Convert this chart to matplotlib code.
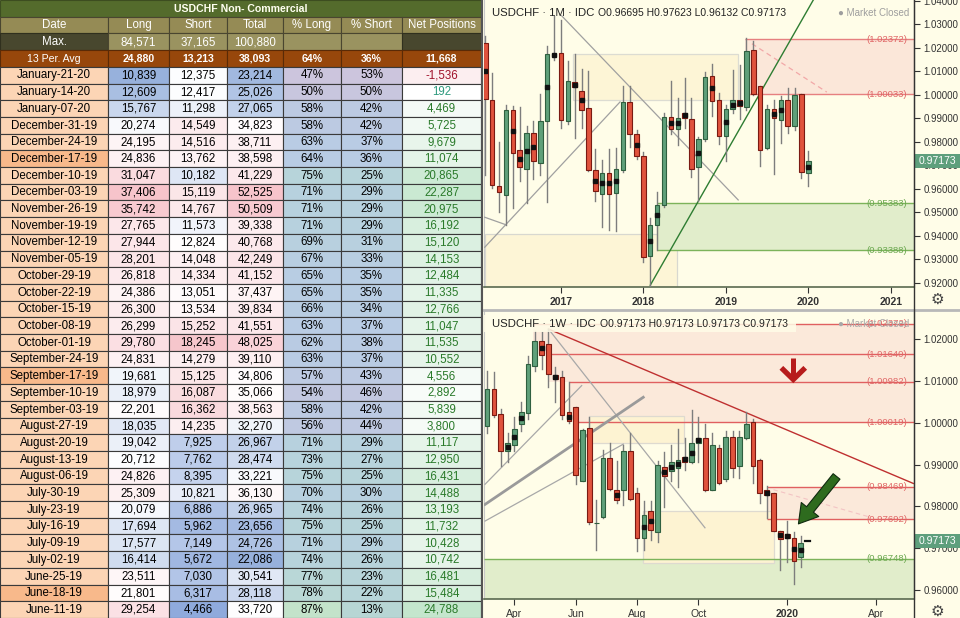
import matplotlib
matplotlib.use('Agg')
import matplotlib.pyplot as plt
from matplotlib.patches import Rectangle, FancyArrowPatch
from matplotlib.lines import Line2D
from matplotlib.colors import to_rgb
import matplotlib.transforms as mtransforms
import numpy as np

plt.rcParams['font.family'] = ['Liberation Sans', 'DejaVu Sans']

# ------------------------------------------------------------------ table data
table_title = "USDCHF Non- Commercial"
headers = ["Date", "Long", "Short", "Total", "% Long", "% Short", "Net Positions"]
max_vals = [84571, 37165, 100880]
avg_vals = ["24,880", "13,213", "38,093", "64%", "36%", "11,668"]
dates = ["January-21-20", "January-14-20", "January-07-20", "December-31-19",
         "December-24-19", "December-17-19", "December-10-19", "December-03-19",
         "November-26-19", "November-19-19", "November-12-19", "November-05-19",
         "October-29-19", "October-22-19", "October-15-19", "October-08-19",
         "October-01-19", "September-24-19", "September-17-19", "September-10-19",
         "September-03-19", "August-27-19", "August-20-19", "August-13-19",
         "August-06-19", "July-30-19", "July-23-19", "July-16-19", "July-09-19",
         "July-02-19", "June-25-19", "June-18-19", "June-11-19"]
highlight_dates = ["December-17-19", "September-17-19", "June-18-19"]
long_pos = [10839, 12609, 15767, 20274, 24195, 24836, 31047, 37406, 35742, 27765, 27944,
            28201, 26818, 24386, 26300, 26299, 29780, 24831, 19681, 18979, 22201, 18035,
            19042, 20712, 24826, 25309, 20079, 17694, 17577, 16414, 23511, 21801, 29254]
short_pos = [12375, 12417, 11298, 14549, 14516, 13762, 10182, 15119, 14767, 11573, 12824,
             14048, 14334, 13051, 13534, 15252, 18245, 14279, 15125, 16087, 16362, 14235,
             7925, 7762, 8395, 10821, 6886, 5962, 7149, 5672, 7030, 6317, 4466]
total_pos = [23214, 25026, 27065, 34823, 38711, 38598, 41229, 52525, 50509, 39338, 40768,
             42249, 41152, 37437, 39834, 41551, 48025, 39110, 34806, 35066, 38563, 32270,
             26967, 28474, 33221, 36130, 26965, 23656, 24726, 22086, 30541, 28118, 33720]
pct_long = [47, 50, 58, 58, 63, 64, 75, 71, 71, 71, 69, 67, 65, 65, 66, 63, 62, 63, 57, 54,
            58, 56, 71, 73, 75, 70, 74, 75, 71, 74, 77, 78, 87]
pct_short = [53, 50, 42, 42, 37, 36, 25, 29, 29, 29, 31, 33, 35, 35, 34, 37, 38, 37, 43, 46,
             42, 44, 29, 27, 25, 30, 26, 25, 29, 26, 23, 22, 13]
net_pos = [-1536, 192, 4469, 5725, 9679, 11074, 20865, 22287, 20975, 16192, 15120, 14153,
           12484, 11335, 12766, 11047, 11535, 10552, 4556, 2892, 5839, 3800, 11117, 12950,
           16431, 14488, 13193, 11732, 10428, 10742, 16481, 15484, 24788]

# ------------------------------------------------------------------ monthly chart data (Feb-2016 .. Jan-2020)
m_idx = list(range(1, 49))
m_open = [1.0223, 0.9980, 0.9613, 0.9576, 0.9936, 0.9765, 0.9684, 0.9836, 0.9710, 0.9891,
          1.0166, 1.0177, 0.9891, 1.0056, 1.0018, 0.9943, 0.9679, 0.9579, 0.9668, 0.9583,
          0.9679, 0.9970, 0.9835, 0.9738, 0.9314, 0.9445, 0.9531, 0.9906, 0.9854, 0.9924,
          0.9898, 0.9693, 0.9812, 1.0081, 0.9979, 0.9827, 0.9939, 0.9977, 0.9948, 1.0191,
          1.0038, 0.9772, 0.9939, 0.9894, 0.9977, 0.9866, 1.0003, 0.96695]
m_high = [1.0252, 1.0095, 0.9799, 0.9958, 0.9954, 0.9950, 0.9869, 0.9887, 1.0003, 1.0208,
          1.0335, 1.0320, 1.0144, 1.0174, 1.0110, 1.0102, 0.9769, 0.9723, 0.9768, 0.9772,
          1.0040, 1.0040, 0.9851, 0.9757, 0.9475, 0.9586, 0.9921, 1.0058, 0.9985, 1.0072,
          0.9988, 0.9821, 1.0096, 1.0132, 1.0010, 0.9958, 1.0104, 1.0129, 1.0243, 1.0229,
          1.0040, 0.9958, 0.9979, 0.9995, 1.0029, 1.0028, 1.0006, 0.97623]
m_low = [0.9661, 0.9604, 0.9500, 0.9445, 0.9519, 0.9634, 0.9542, 0.9641, 0.9661, 0.9546,
         1.0150, 0.9861, 0.9876, 0.9817, 0.9861, 0.9676, 0.9549, 0.9437, 0.9426, 0.9420,
         0.9670, 0.9780, 0.9728, 0.9289, 0.9188, 0.9341, 0.9525, 0.9832, 0.9787, 0.9861,
         0.9649, 0.9549, 0.9802, 0.9910, 0.9791, 0.9717, 0.9925, 0.9899, 0.9936, 0.9999,
         0.9698, 0.9770, 0.9664, 0.9797, 0.9839, 0.9851, 0.9646, 0.96132]
m_close = [0.9983, 0.9616, 0.9586, 0.9936, 0.9754, 0.9693, 0.9836, 0.9717, 0.9888, 1.0174,
           1.0174, 0.9894, 1.0058, 1.0032, 0.9936, 0.9679, 0.9589, 0.9668, 0.9579, 0.9684,
           0.9970, 0.9835, 0.9738, 0.9310, 0.9445, 0.9530, 0.9906, 0.9854, 0.9903, 0.9902,
           0.9686, 0.9814, 1.0077, 0.9976, 0.9827, 0.9939, 0.9977, 0.9951, 1.0188, 1.0003,
           0.9765, 0.9939, 0.9901, 0.9977, 0.9869, 0.9998, 0.9671, 0.97173]
m_dots = [1, 5, 6, 7, 8, 10, 11, 14, 15, 17, 18, 19, 20, 23, 25, 26, 28, 29, 30, 32, 34,
          36, 37, 38, 43, 44, 48]
m_ticks = [12, 24, 36, 48, 60]
m_tick_labels = ["2017", "2018", "2019", "2020", "2021"]
m_red_levels = [1.02372, 1.00033]
m_green_levels = [0.95383, 0.93388]

# ------------------------------------------------------------------ weekly chart data (week of 25-Feb-2019 .. 20-Jan-2020)
w_idx = list(range(48))
w_open = [0.9992, 1.0081, 1.0021, 0.9932, 0.9948, 0.9997, 1.0023, 1.0137, 1.0197, 1.0189,
          1.0115, 1.0111, 1.0025, 1.0037, 0.9862, 0.9989, 0.9760, 0.9775, 0.9916, 0.9840,
          0.9840, 0.9932, 0.9832, 0.9724, 0.9788, 0.9738, 0.9895, 0.9884, 0.9892, 0.9919,
          0.9906, 0.9952, 0.9964, 0.9840, 0.9939, 0.9866, 0.9967, 0.9896, 0.9964, 1.0002,
          0.9912, 0.9839, 0.9832, 0.9740, 0.9734, 0.9724, 0.9678, 0.97173]
w_high = [1.0125, 1.0121, 1.0033, 0.9976, 1.0013, 1.0049, 1.0161, 1.0219, 1.0217, 1.0225,
          1.0133, 1.0125, 1.0097, 1.0037, 0.9985, 1.0014, 0.9816, 0.9934, 0.9952, 0.9908,
          0.9948, 0.9976, 0.9844, 0.9812, 0.9812, 0.9908, 0.9931, 0.9947, 0.9985, 0.9964,
          1.0030, 1.0015, 0.9997, 0.9976, 0.9947, 0.9980, 0.9980, 0.9980, 1.0025, 1.0010,
          0.9913, 0.9848, 0.9833, 0.9742, 0.9764, 0.9738, 0.9730, 0.97173]
w_low = [0.9976, 1.0013, 0.9896, 0.9907, 0.9932, 0.9980, 1.0009, 1.0125, 1.0129, 1.0085,
         1.0049, 1.0009, 1.0001, 0.9854, 0.9860, 0.9758, 0.9696, 0.9773, 0.9840, 0.9807,
         0.9804, 0.9816, 0.9692, 0.9695, 0.9720, 0.9714, 0.9798, 0.9860, 0.9846, 0.9887,
         0.9904, 0.9907, 0.9838, 0.9839, 0.9853, 0.9860, 0.9870, 0.9868, 0.9962, 0.9856,
         0.9807, 0.9772, 0.9740, 0.9648, 0.9668, 0.9614, 0.9656, 0.97173]
w_close = [1.0081, 1.0019, 0.9932, 0.9951, 0.9985, 1.0025, 1.0142, 1.0197, 1.0163, 1.0117,
           1.0105, 1.0018, 1.0005, 0.9876, 0.9983, 0.9763, 0.9761, 0.9916, 0.9842, 0.9816,
           0.9932, 0.9818, 0.9724, 0.9779, 0.9744, 0.9900, 0.9872, 0.9907, 0.9910, 0.9906,
           0.9951, 0.9964, 0.9840, 0.9947, 0.9855, 0.9967, 0.9892, 0.9967, 0.9997, 0.9896,
           0.9831, 0.9827, 0.9742, 0.9722, 0.9724, 0.9670, 0.9712, 0.97173]
w_dots = [3, 4, 5, 8, 10, 12, 19, 23, 24, 26, 27, 28, 29, 30, 31, 41, 43, 44, 45, 46]
w_ticks = [4, 13, 22, 31, 44, 57]
w_tick_labels = ["Apr", "Jun", "Aug", "Oct", "2020", "Apr"]
w_red_levels = [1.02372, 1.01640, 1.00982, 1.00019, 0.98469, 0.97692]
w_red_starts = [6.7, 9.0, 12.0, 13.0, 41.0, 41.0]
w_green_level = 0.96748
last_price = 0.97173

# ------------------------------------------------------------------ figure
BG = '#FFFDE8'
fig = plt.figure(figsize=(9.6, 6.18), dpi=100)
fig.patch.set_facecolor(BG)


def scale_color(v, stops):
    vs = [s[0] for s in stops]
    cs = [np.array(to_rgb(s[1])) for s in stops]
    if v <= vs[0]:
        return tuple(cs[0])
    if v >= vs[-1]:
        return tuple(cs[-1])
    for i in range(len(vs) - 1):
        if vs[i] <= v <= vs[i + 1]:
            t = (v - vs[i]) / (vs[i + 1] - vs[i])
            return tuple(cs[i] * (1 - t) + cs[i + 1] * t)


# ------------------------------------------------------------------ table
axt = fig.add_axes([0, 0, 481 / 960, 1])
axt.set_xlim(0, 481)
axt.set_ylim(618, 0)
axt.axis('off')
nrows = 4 + len(dates)
rh = 618 / nrows
cx = [0, 108, 169, 227, 283, 341, 402, 481]


def cell(c0, c1, r, fc, text='', color='black', weight='normal', size=8.3, ec='#3A3A3A'):
    x0, x1 = cx[c0], cx[c1]
    axt.add_patch(Rectangle((x0, r * rh), x1 - x0, rh, fc=fc, ec=ec, lw=0.8))
    if text:
        axt.text((x0 + x1) / 2, r * rh + rh / 2 + 0.3, text, ha='center', va='center',
                 color=color, fontweight=weight, fontsize=size)


cell(0, 7, 0, '#546B2C', table_title, color='#FFFFF0', weight='bold', size=7.6, ec='#3d4d20')
for i, hname in enumerate(headers):
    cell(i, i + 1, 1, '#958B55', hname, color='white', size=8.3, ec='#4a4630')
cell(0, 1, 2, '#48472E', 'Max.', color='white', size=8.3, ec='#30301e')
for i, v in enumerate(max_vals):
    cell(i + 1, i + 2, 2, '#9A9360', f"{v:,}", color='white', size=8.3, ec='#4a4630')
cell(4, 5, 2, '#9A9360', ec='#4a4630')
cell(5, 6, 2, '#9A9360', ec='#4a4630')
cell(6, 7, 2, '#48472E', ec='#30301e')
cell(0, 1, 3, '#97470B', '13 Per. Avg', color='white', size=7.6, ec='#5a2a06')
for i, v in enumerate(avg_vals):
    cell(i + 1, i + 2, 3, '#97470B', v, color='white', weight='bold', size=7.6, ec='#5a2a06')

long_stops = [(10839, '#97B1DC'), (21000, '#FFFFFF'), (37406, '#F7C4CB')]
short_stops = [(4466, '#8FAADC'), (12600, '#FFFFFF'), (18245, '#F6C6CC')]
total_stops = [(22086, '#97B1DC'), (34000, '#FFFFFF'), (52525, '#F7C4CB')]
pl_stops = [(47, '#CCC5DD'), (58, '#BCCAE2'), (64, '#B8CCE4'), (75, '#B7D4DA'), (87, '#C3E3CA')]
ps_stops = [(13, '#B7D6D4'), (25, '#B7D4DA'), (36, '#B8CCE4'), (42, '#BCCAE2'), (53, '#CCC5DD')]
net_stops = [(0, '#FFFFFF'), (24788, '#C4E6CD')]

for k, d in enumerate(dates):
    r = 4 + k
    cell(0, 1, r, '#F8B98B' if d in highlight_dates else '#FCD5B5', d)
    cell(1, 2, r, scale_color(long_pos[k], long_stops), f"{long_pos[k]:,}")
    cell(2, 3, r, scale_color(short_pos[k], short_stops), f"{short_pos[k]:,}")
    cell(3, 4, r, scale_color(total_pos[k], total_stops), f"{total_pos[k]:,}")
    cell(4, 5, r, scale_color(pct_long[k], pl_stops), f"{pct_long[k]}%")
    cell(5, 6, r, scale_color(pct_short[k], ps_stops), f"{pct_short[k]}%")
    nv = net_pos[k]
    if nv < 0:
        fc, tc = '#FCEEF0', '#A0122B'
    else:
        fc = scale_color(nv, net_stops)
        tc = '#2E9A7E' if nv < 1000 else '#2A7A2A'
    cell(6, 7, r, fc, f"{nv:,}", color=tc)

# ------------------------------------------------------------------ chart helpers
G_FACE, G_EDGE = '#5FA07A', '#2F5F3F'
R_FACE, R_EDGE = '#E0533D', '#7A1A12'


def candles(ax, xs, o, h, l, c, dots, width):
    for x, oo, hh, ll, cc in zip(xs, o, h, l, c):
        ax.add_line(Line2D([x, x], [ll, hh], color='#7D7D7D', lw=1.0, zorder=4))
        if abs(cc - oo) < 2e-5:
            ax.add_line(Line2D([x - width / 2, x + width / 2], [cc, cc], color='#111111',
                               lw=1.6, zorder=5))
            continue
        up = cc >= oo
        ax.add_patch(Rectangle((x - width / 2, min(oo, cc)), width, abs(cc - oo),
                               fc=G_FACE if up else R_FACE, ec=G_EDGE if up else R_EDGE,
                               lw=0.8, zorder=5))
        if x in dots:
            ax.plot([x], [(oo + cc) / 2], marker='s', ms=2.2, color='#111111', zorder=6)


def style_axis(ax, yticks, xticks, xlabels, bold_labels):
    ax.set_facecolor(BG)
    ax.yaxis.tick_right()
    ax.set_yticks(yticks)
    ax.set_yticklabels([f"{v:.5f}" for v in yticks])
    ax.set_xticks(xticks)
    ax.set_xticklabels(xlabels)
    ax.tick_params(axis='y', labelsize=7, colors='#333333', length=4, width=0.8, pad=3)
    ax.tick_params(axis='x', labelsize=7.5, colors='#333333', length=4, width=0.8, pad=3)
    for lab in ax.get_xticklabels():
        if lab.get_text() in bold_labels:
            lab.set_fontweight('bold')
    ax.spines['top'].set_visible(False)
    ax.spines['left'].set_color('#C8C8C8')
    ax.spines['right'].set_color('#333333')
    ax.spines['bottom'].set_color('#5A6A50')
    ax.spines['bottom'].set_linewidth(1.2)


def price_tag(ax, price, px_per_unit):
    tr = mtransforms.blended_transform_factory(ax.transAxes, ax.transData)
    dh = 14 / px_per_unit
    ax.add_patch(Rectangle((1.002, price - dh / 2), 46 / 430, dh, transform=tr,
                           fc='#5E9F7C', ec='none', clip_on=False, zorder=10))
    ax.text(1.0 + 23 / 430, price, f"{price:.5f}", transform=tr, ha='center', va='center',
            color='white', fontsize=7.5, clip_on=False, zorder=11)


def level_label(ax, level, color):
    tr = mtransforms.blended_transform_factory(ax.transAxes, ax.transData)
    ax.text(0.984, level, f"({level:.5f})", transform=tr, ha='right', va='center',
            fontsize=6.8, color=color, zorder=7)


# ------------------------------------------------------------------ monthly chart
ax1 = fig.add_axes([484 / 960, 1 - 287 / 618, 430 / 960, 287 / 618])
m_xlim = (0.8, 63.39)
m_ylim = (0.91824, 1.04041)
ax1.set_xlim(*m_xlim)
ax1.set_ylim(*m_ylim)
style_axis(ax1, [round(0.92 + 0.01 * i, 2) for i in range(13)], m_ticks, m_tick_labels,
           m_tick_labels)

# background rectangles
ax1.add_patch(Rectangle((0.94, m_ylim[0]), 28.9 - 0.94, 0.9408 - m_ylim[0], fc='#FDF5D6',
                        ec='#D8D8D0', lw=0.9, zorder=1))
ax1.add_patch(Rectangle((13.75, 0.9977), 37.8 - 13.75, 1.0174 - 0.9977, fc='#FDF5D6',
                        ec='#DCDCD2', lw=0.9, zorder=1))
# zones
ax1.add_patch(Rectangle((38.8, m_red_levels[1]), m_xlim[1] - 38.8,
                        m_red_levels[0] - m_red_levels[1], fc='#FBE7D9', ec='none', zorder=1))
ax1.hlines(m_red_levels, 38.8, m_xlim[1], colors='#E68080', lw=1.0, zorder=3)
ax1.add_patch(Rectangle((26.0, m_green_levels[1]), m_xlim[1] - 26.0,
                        m_green_levels[0] - m_green_levels[1], fc='#E1EDCB', ec='none', zorder=1))
ax1.hlines(m_green_levels, 26.0, m_xlim[1], colors='#7CB35A', lw=1.0, zorder=3)
ax1.vlines([26.0], m_green_levels[1], m_green_levels[0], colors='#9CC47E', lw=0.8, zorder=3)
ax1.plot([39.8, 50.7], [1.0218, 1.0012], ls=(0, (4, 3)), color='#F2A8A8', lw=0.9, zorder=2)
for lv in m_red_levels:
    level_label(ax1, lv, '#E06666')
for lv in m_green_levels:
    level_label(ax1, lv, '#6AA84F')
# trend lines
ax1.plot([12.1, 37.8], [1.0337, 0.9553], color='#A0A0A0', lw=0.9, zorder=3)
ax1.plot([0.9, 20.6], [0.93515, 0.99701], color='#A0A0A0', lw=0.9, zorder=3)
ax1.plot([0.9, 3.9], [0.94794, 0.94483], color='#A0A0A0', lw=0.9, zorder=3)
ax1.plot([25.0, 48.73], [0.9190, 1.0404], color='#2E7D32', lw=1.0, zorder=3)

candles(ax1, m_idx, m_open, m_high, m_low, m_close, m_dots, 0.65)
price_tag(ax1, last_price, 287 / (m_ylim[1] - m_ylim[0]))

fig.text(492 / 960, 1 - 12.5 / 618, "USDCHF · 1M · IDC", fontsize=8.2, color='#222222',
         va='center', ha='left')
fig.text(598 / 960, 1 - 12.5 / 618, "O0.96695 H0.97623 L0.96132 C0.97173", fontsize=7.5,
         color='#222222', va='center', ha='left')
fig.text(909 / 960, 1 - 12.5 / 618, "● Market Closed", fontsize=7, color='#9E9E9E',
         va='center', ha='right')

# ------------------------------------------------------------------ weekly chart
ax2 = fig.add_axes([484 / 960, 1 - 599 / 618, 430 / 960, 288 / 618])
w_xlim = (-0.45, 62.6)
w_ylim = (0.95782, 1.02681)
ax2.set_xlim(*w_xlim)
ax2.set_ylim(*w_ylim)
style_axis(ax2, [round(0.96 + 0.01 * i, 2) for i in range(7)], w_ticks, w_tick_labels,
           ["2020"])

# peach zones
ax2.add_patch(Rectangle((w_red_starts[0], w_red_levels[1]), w_xlim[1] - w_red_starts[0],
                        w_red_levels[0] - w_red_levels[1], fc='#FBE9DA', ec='none', zorder=1))
ax2.add_patch(Rectangle((w_red_starts[1], w_red_levels[2]), w_xlim[1] - w_red_starts[1],
                        w_red_levels[1] - w_red_levels[2], fc='#FBE9DA', ec='none', zorder=1))
ax2.add_patch(Rectangle((w_red_starts[2], w_red_levels[3]), w_xlim[1] - w_red_starts[2],
                        w_red_levels[2] - w_red_levels[3], fc='#FBE9DA', ec='none', zorder=1))
ax2.add_patch(Rectangle((w_red_starts[4], w_red_levels[5]), w_xlim[1] - w_red_starts[4],
                        w_red_levels[4] - w_red_levels[5], fc='#FBE9DA', ec='none', zorder=1))
# green zone
ax2.add_patch(Rectangle((w_xlim[0], w_ylim[0]), w_xlim[1] - w_xlim[0],
                        w_green_level - w_ylim[0], fc='#E1EDCB', ec='none', zorder=1))
ax2.hlines([w_green_level], w_xlim[0], w_xlim[1], colors='#7CB35A', lw=1.0, zorder=3)
# yellow rectangles
ax2.add_patch(Rectangle((14.9, 0.99524), 28.9 - 14.9, 1.00165 - 0.99524, fc='#FDF3D2',
                        ec='#DEDAD0', lw=0.9, zorder=1.5))
ax2.add_patch(Rectangle((22.8, 0.96639), 42.0 - 22.8, 0.97897 - 0.96639, fc='#FDF3D2',
                        ec='#DEDAD0', lw=0.9, zorder=1.5))
# red levels
for lv, st in zip(w_red_levels, w_red_starts):
    ax2.hlines([lv], st, w_xlim[1], colors='#E06060', lw=1.0, zorder=3)
    level_label(ax2, lv, '#E06666')
level_label(ax2, w_green_level, '#6AA84F')
# faint dashed guides
ax2.plot([42.0, 56.0], [0.9840, 0.9775], ls=(0, (4, 3)), color='#F3C4C4', lw=0.8, zorder=2)
# trend lines
ax2.plot([9.0, 62.5], [1.0225, 0.9855], color='#BF3030', lw=1.0, zorder=3)
ax2.plot([9.0, 31.95], [1.0225, 0.97488], color='#A8A8A8', lw=0.9, zorder=3)
ax2.plot([-0.3, 22.9], [0.98048, 1.00614], color='#9A9A9A', lw=2.0, zorder=3)
ax2.plot([-0.3, 13.87], [0.98530, 1.00894], color='#A8A8A8', lw=0.9, zorder=3)
ax2.plot([-0.3, 19.97], [0.97649, 0.99491], color='#A8A8A8', lw=0.9, zorder=3)

candles(ax2, w_idx, w_open, w_high, w_low, w_close, w_dots, 0.7)

# red down arrow
ax2.add_line(Line2D([44.9, 44.9], [1.0156, 1.0110], color='#B71C1C', lw=3.6, zorder=8,
                    solid_capstyle='butt'))
ax2.add_line(Line2D([43.15, 44.9, 46.65], [1.0132, 1.0104, 1.0132], color='#B71C1C', lw=3.8,
                    zorder=8, solid_joinstyle='miter', solid_capstyle='butt'))
# green arrow
garrow = FancyArrowPatch((51.5, 0.9877), (45.4, 0.97529),
                         arrowstyle='simple,head_length=0.95,head_width=1.15,tail_width=0.45',
                         mutation_scale=14, fc='#2E6B1E', ec='#0F2A0F', lw=0.8, zorder=9)
ax2.add_patch(garrow)

price_tag(ax2, last_price, 288 / (w_ylim[1] - w_ylim[0]))

fig.add_artist(Rectangle((484 / 960, 1 - 332 / 618), 312 / 960, 17 / 618,
                         transform=fig.transFigure, fc=BG, ec='none', alpha=0.85, zorder=2))
fig.text(492 / 960, 1 - 323.7 / 618, "USDCHF · 1W · IDC", fontsize=8.2, color='#222222',
         va='center', ha='left', zorder=4)
fig.text(600 / 960, 1 - 323.7 / 618, "O0.97173 H0.97173 L0.97173 C0.97173", fontsize=7.5,
         color='#222222', va='center', ha='left', zorder=4)
fig.text(909 / 960, 1 - 323.7 / 618, "● Market Closed", fontsize=7, color='#A8A8A8',
         va='center', ha='right', zorder=3)

# ------------------------------------------------------------------ frame details
fig.add_artist(Line2D([484 / 960, 1], [1 - 310 / 618, 1 - 310 / 618], color='#B8B8B8', lw=2,
                      transform=fig.transFigure, zorder=3))
fig.add_artist(Line2D([914 / 960, 914 / 960], [0, 1], color='#333333', lw=1,
                      transform=fig.transFigure, zorder=3))
fig.add_artist(Line2D([482 / 960, 482 / 960], [0, 1], color='#555555', lw=1.5,
                      transform=fig.transFigure, zorder=3))
for gy in (299, 611):
    fig.text(937 / 960, 1 - gy / 618, "⚙", fontsize=11, color='#444444', ha='center',
             va='center', family=['DejaVu Sans'])

fig.savefig('out.png', dpi=100, facecolor=BG)
